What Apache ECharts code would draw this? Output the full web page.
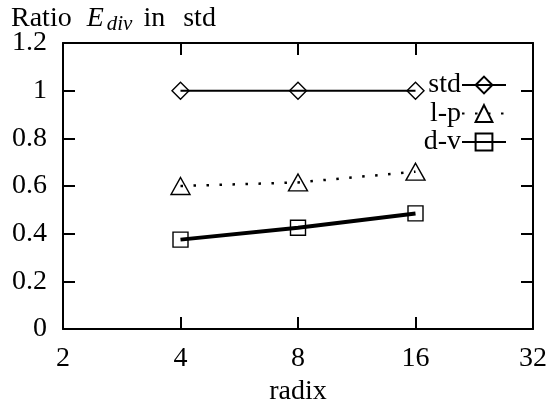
<!DOCTYPE html>
<html>
<head>
<meta charset="utf-8">
<script src="https://cdn.jsdelivr.net/npm/echarts@6/dist/echarts.min.js"></script>
<style>
  html, body { margin: 0; padding: 0; background: #fff; }
  #chart { width: 559px; height: 404px; }
</style>
</head>
<body>
<div id="chart"></div>
<script>
// Radix values on the x axis (log2 scale) and the E_div ratio of each method
const radix = [4, 8, 16];
const stdRatio = [1.0, 1.0, 1.0];
const lpRatio = [0.6, 0.615, 0.66];
const dvRatio = [0.375, 0.425, 0.485];
const seriesNames = ['std', 'l-p', 'd-v'];

const FONT = 'Liberation Serif';
const FS = 28;
const INK = '#000';

function pairs(xs, ys) {
  return xs.map((x, i) => [x, ys[i]]);
}

const chart = echarts.init(document.getElementById('chart'), null, { renderer: 'canvas' });

const frameLine = { show: true, onZero: false, lineStyle: { color: INK, width: 2 } };
const tickIn = { show: true, inside: true, length: 12, lineStyle: { color: INK, width: 2 } };

const xBase = {
  type: 'log',
  logBase: 2,
  min: 2,
  max: 32,
  splitNumber: 4,
  axisLine: frameLine,
  axisTick: tickIn,
  splitLine: { show: false },
  minorTick: { show: false }
};
const yBase = {
  type: 'value',
  min: 0,
  max: 1.2,
  interval: 0.2,
  axisLine: frameLine,
  axisTick: tickIn,
  splitLine: { show: false }
};

const symStyle = { color: 'rgba(0,0,0,0)', borderColor: INK, borderWidth: 1.4 };
const txt = { fontFamily: FONT, fontSize: FS, color: INK, fontWeight: 'normal' };

chart.setOption({
  animation: false,
  backgroundColor: '#fff',
  title: {
    text: '{r|Ratio}{e|E}{s|div}{i|in}{t|std}',
    left: 11,
    top: 2,
    padding: 0,
    textStyle: {
      fontFamily: FONT,
      fontWeight: 'normal',
      rich: {
        r: Object.assign({}, txt),
        e: Object.assign({}, txt, { fontStyle: 'italic', padding: [0, 0, 0, 15] }),
        s: Object.assign({}, txt, { fontSize: 21, fontStyle: 'italic', padding: [12, 0, 0, 3] }),
        i: Object.assign({}, txt, { padding: [0, 0, 0, 11] }),
        t: Object.assign({}, txt, { padding: [0, 0, 0, 18] })
      }
    }
  },
  grid: { left: 63, right: 26, top: 43, bottom: 75, outerBoundsMode: 'none', containLabel: false },
  legend: {
    orient: 'vertical',
    right: 52,
    top: 71,
    padding: 0,
    align: 'right',
    itemWidth: 44,
    itemHeight: 21,
    itemGap: 0.5,
    textStyle: Object.assign({}, txt, { padding: [0, -4, 0, 0] }),
    data: seriesNames
  },
  xAxis: [
    Object.assign({}, xBase, {
      position: 'bottom',
      name: 'radix',
      nameLocation: 'middle',
      nameGap: 49,
      nameTextStyle: txt,
      axisLabel: Object.assign({}, txt, { margin: 16 })
    }),
    Object.assign({}, xBase, { position: 'top', axisLabel: { show: false } })
  ],
  yAxis: [
    Object.assign({}, yBase, {
      position: 'left',
      axisLabel: Object.assign({}, txt, { margin: 16 })
    }),
    Object.assign({}, yBase, { position: 'right', axisLabel: { show: false } })
  ],
  series: [
    {
      name: seriesNames[0],
      type: 'line',
      xAxisIndex: 0,
      yAxisIndex: 0,
      data: pairs(radix, stdRatio),
      symbol: 'diamond',
      symbolSize: [17, 17],
      itemStyle: symStyle,
      lineStyle: { color: INK, width: 2 }
    },
    {
      name: seriesNames[1],
      type: 'line',
      xAxisIndex: 0,
      yAxisIndex: 0,
      data: pairs(radix, lpRatio),
      symbol: 'triangle',
      symbolSize: [19, 17],
      itemStyle: symStyle,
      lineStyle: { color: INK, width: 2.5, type: [2.5, 10.5] }
    },
    {
      name: seriesNames[2],
      type: 'line',
      xAxisIndex: 0,
      yAxisIndex: 0,
      data: pairs(radix, dvRatio),
      symbol: 'rect',
      symbolSize: [15, 15],
      itemStyle: symStyle,
      lineStyle: { color: INK, width: 4 }
    }
  ]
});
</script>
</body>
</html>
